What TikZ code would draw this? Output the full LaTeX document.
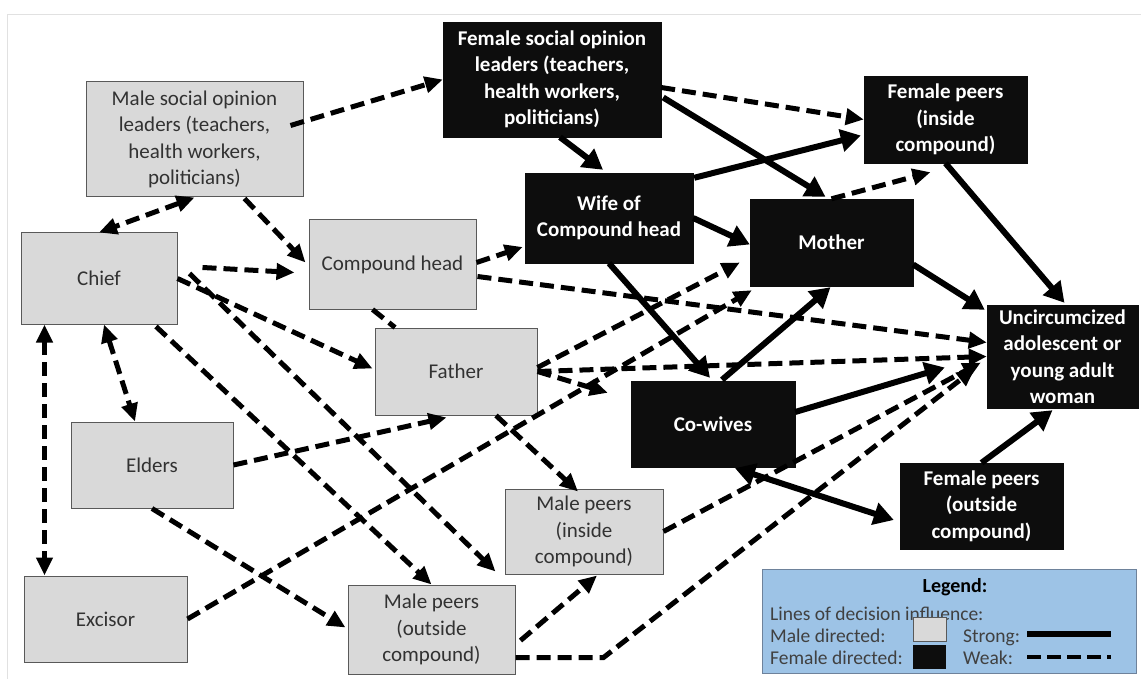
\documentclass[tikz,border=0pt]{standalone}
\usepackage{fontspec}
\setmainfont{Carlito}
\usetikzlibrary{arrows.meta,calc}
\definecolor{malegray}{RGB}{217,217,217}
\definecolor{maleline}{RGB}{89,89,89}
\definecolor{maletext}{RGB}{50,50,50}
\definecolor{femblack}{RGB}{13,13,13}
\definecolor{legendblue}{RGB}{157,195,230}
\definecolor{legendline}{RGB}{110,130,155}
\definecolor{legendtext}{RGB}{64,64,64}
\definecolor{framegray}{RGB}{225,225,225}

\begin{document}
\begin{tikzpicture}[x=1pt,y=-1pt,
  male/.style={draw=maleline,line width=1pt,fill=malegray,text=maletext,align=center,inner sep=0pt,font=\fontsize{21}{26.5}\selectfont},
  female/.style={draw=femblack,fill=femblack,text=white,align=center,inner sep=0pt,font=\bfseries\fontsize{21}{26.5}\selectfont},
  wk/.tip={Triangle[length=18pt,width=16pt]},
  st/.tip={Triangle[length=20pt,width=22pt]},
  strong/.style={line width=6pt,-st},
  weak/.style={line width=5pt,dash pattern=on 14pt off 7pt,-wk},
  legtext/.style={anchor=base west,inner sep=0pt,text=legendtext,font=\fontsize{19.5}{22}\selectfont}]
  \useasboundingbox (0,0) rectangle (1141,679);
  \draw[framegray,line width=1pt] (7,679) |- (1141,15);

  \node[male,minimum width=217,minimum height=115] (msol) at (194.5,139.5) {Male social opinion\\leaders (teachers,\\health workers,\\politicians)};
  \node[female,minimum width=218,minimum height=115] (fsol) at (552,79.5) {Female social opinion\\leaders (teachers,\\health workers,\\politicians)};
  \node[male,minimum width=156,minimum height=91] (chief) at (99,278.5) {Chief};
  \node[male,minimum width=167,minimum height=89] (chead) at (392.5,264.5) {Compound head};
  \node[female,minimum width=168,minimum height=90] (wife) at (609,218) {Wife of\\Compound head};
  \node[female,minimum width=163,minimum height=87] (mother) at (831.5,242.5) {Mother};
  \node[female,minimum width=163,minimum height=87] (fpin) at (945.5,119.5) {Female peers\\(inside\\compound)};
  \node[female,minimum width=151,minimum height=103] (girl) at (1062.5,356.5) {Uncircumcized\\adolescent or\\young adult\\woman};
  \node[male,minimum width=162,minimum height=87] (father) at (456,371.5) {Father};
  \node[female,minimum width=164,minimum height=86] (cowives) at (713,424) {Co-wives};
  \node[male,minimum width=162,minimum height=86] (elders) at (152,465) {Elders};
  \node[male,minimum width=163,minimum height=86] (excisor) at (105.5,619) {Excisor};
  \node[male,minimum width=167,minimum height=89] (mpout) at (431.5,629.5) {Male peers\\(outside\\compound)};
  \node[male,minimum width=158,minimum height=85] (mpin) at (584,531.5) {Male peers\\(inside\\compound)};
  \node[female,minimum width=163,minimum height=86] (fpout) at (981.5,506) {Female peers\\(outside\\compound)};

  \draw[weak] ($(msol.east)+(-13,-14)$) -- (fsol.west);
  \draw[weak,wk-wk] (msol.south) -- (chief.north);
  \draw[weak] ($(msol.south)+(50,1)$) -- ($(chead.west)+(-3,-2)$);
  \draw[weak] ($(chief.east)+(25,-11)$) -- ($(chead.west)+(-14,8)$);
  \draw[weak] (chief.east) -- ($(father.west)+(-2,-3)$);
  \draw[weak] ($(chief.east)+(12,-5)$) -- ($(mpin.south west)+(-9,-3)$);
  \draw[weak] ($(chief.south)+(57,2)$) -- (mpout.north);
  \draw[weak,wk-wk] ($(chief.south)+(5,0)$) -- ($(elders.north)+(-17,0)$);
  \draw[weak,wk-wk] ($(chief.south west)+(24,0)$) -- ($(excisor.north west)+(21,0)$);
  \draw[weak] (elders.east) -- ($(father.south west)+(72,2)$);
  \draw[weak] (elders.south) -- ($(mpout.west)+(-2,-2)$);
  \draw[weak] (excisor.east) -- ($(mother.south west)+(2,4)$);
  \draw[weak] ($(father.east)+(0,-4)$) -- ($(mother.west)+(-10,20)$);
  \draw[weak] (father.east) -- ($(cowives.north west)+(-23,12)$);
  \draw[weak] (father.east) -- (girl.west);
  \draw[weak] ($(chead.east)+(0,-2)$) -- ($(wife.west)+(-2,29)$);
  \draw[weak] ($(chead.east)+(1,12)$) -- ($(girl.west)+(0,-14)$);
  \draw[weak,-] ($(chead.south)+(-20,0)$) -- ($(father.north)+(-61,0)$);
  \draw[weak] ($(fsol.east)+(0,8)$) -- (fpin.west);
  \draw[weak] (mother.north) -- ($(fpin.south)+(-15,9)$);
  \draw[weak] ($(mpout.east)+(5,11)$) -- ($(mpin.south)+(13,1)$);
  \draw[weak] ($(father.south)+(40,0)$) -- ($(mpin.north)+(-6,3)$);
  \draw[weak] (mpin.east) -- ($(girl.west)+(-6,6)$);
  \draw[weak] ($(mpout.east)+(0,28)$) -- ++(88,0) -- ($(girl.west)+(-12,12)$);

  \draw[strong] ($(fsol.south)+(8,0)$) -- ($(wife.north)+(-6,-3)$);
  \draw[strong] ($(fsol.east)+(2,18)$) -- ($(mother.north)+(-6,-2)$);
  \draw[strong] ($(wife.north east)+(1,5)$) -- ($(fpin.west)+(-3,16)$);
  \draw[strong] (wife.east) -- ($(mother.west)+(0,2)$);
  \draw[strong] (wife.south) -- ($(cowives.north)+(-3,-3)$);
  \draw[strong] ($(cowives.north)+(9,-1)$) -- ($(mother.south)+(-1,1)$);
  \draw[strong] ($(mother.east)+(0,22)$) -- ($(girl.north west)+(-2,5)$);
  \draw[strong] (fpin.south) -- ($(girl.north)+(2,-2)$);
  \draw[strong] ($(cowives.east)+(0,-12)$) -- ($(girl.west)+(-42,11)$);
  \draw[strong] (fpout.north) -- ($(girl.south)+(-10,2)$);
  \draw[strong,st-st] ($(cowives.south)+(22,1)$) -- ($(fpout.west)+(-6,14)$);

  \node[draw=legendline,line width=1pt,fill=legendblue,minimum width=374,minimum height=104] (legend) at (949,621) {};
  \node[anchor=base,inner sep=0pt,font=\bfseries\fontsize{20}{24}\selectfont] (legtitle) at (955,592) {Legend:};
  \node[legtext] (leglines) at (770,620) {Lines of decision influence:};
  \node[legtext] (legmale) at (770,642) {Male directed:};
  \node[legtext] (legfemale) at (770,664) {Female directed:};
  \node[draw=maleline,line width=1pt,fill=malegray,minimum width=33,minimum height=24,inner sep=0pt] (maleswatch) at (929.5,629) {};
  \node[fill=femblack,minimum width=33,minimum height=24,inner sep=0pt] (femswatch) at (929.5,657) {};
  \node[legtext] (legstrong) at (963,642) {Strong:};
  \node[legtext] (legweak) at (963,664) {Weak:};
  \draw[line width=6pt] (1027,634) -- (1111,634);
  \draw[line width=4.5pt,dash pattern=on 14pt off 6pt] (1027,657) -- (1111,657);
\end{tikzpicture}
\end{document}
